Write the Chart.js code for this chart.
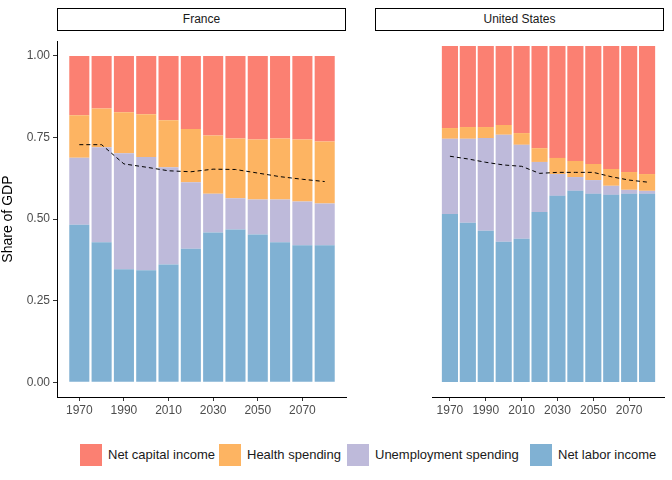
<!DOCTYPE html>
<html><head><meta charset="utf-8">
<script src="https://cdn.jsdelivr.net/npm/chart.js@4"></script>
<style>
body{margin:0;width:672px;height:480px;background:#fff;font-family:"Liberation Sans",Arial,sans-serif;position:relative;overflow:hidden}
.strip{position:absolute;top:8px;height:21px;border:1.5px solid #000;box-sizing:content-box;text-align:center;font-size:12px;line-height:21px;color:#1a1a1a}
canvas{position:absolute}
.leg{position:absolute;top:444px;font-size:13px;color:#1a1a1a;line-height:22px}
.leg span{display:inline-block;width:22px;height:22px;vertical-align:top;margin-right:6px}
</style></head><body>
<div class="strip" style="left:57px;width:287px">France</div>
<div class="strip" style="left:375px;width:287px">United States</div>
<div style="position:absolute;left:0;top:31px;width:347px;height:394px"><canvas id="fr"></canvas></div>
<div style="position:absolute;left:375px;top:31px;width:290px;height:394px"><canvas id="us"></canvas></div>
<div class="leg" style="left:80px"><span style="background:#fb8072"></span>Net capital income</div>
<div class="leg" style="left:219px"><span style="background:#fdb462"></span>Health spending</div>
<div class="leg" style="left:347px"><span style="background:#bebada"></span>Unemployment spending</div>
<div class="leg" style="left:530px"><span style="background:#80b1d3"></span>Net labor income</div>
<script>
const years=[1970,1980,1990,2000,2010,2020,2030,2040,2050,2060,2070,2080];
const tickYears=[1970,1990,2010,2030,2050,2070];
const yTicks=[0,0.25,0.5,0.75,1];
// cumulative tops of each layer
const frLabor=[0.483,0.429,0.346,0.343,0.361,0.409,0.459,0.468,0.453,0.429,0.420,0.420];
const frUnempTop=[0.688,0.720,0.702,0.690,0.659,0.613,0.578,0.564,0.560,0.560,0.554,0.548];
const frHealthTop=[0.818,0.839,0.827,0.821,0.803,0.776,0.756,0.747,0.744,0.747,0.744,0.738];
const frLine=[0.728,0.728,0.669,0.659,0.648,0.645,0.653,0.652,0.641,0.630,0.622,0.615];
const usLabor=[0.500,0.474,0.450,0.417,0.426,0.506,0.554,0.569,0.560,0.557,0.560,0.560];
const usUnempTop=[0.724,0.724,0.726,0.736,0.706,0.655,0.619,0.610,0.601,0.584,0.572,0.569];
const usHealthTop=[0.756,0.759,0.759,0.765,0.741,0.696,0.667,0.658,0.649,0.634,0.625,0.619];
const usLine=[0.672,0.664,0.654,0.646,0.642,0.621,0.624,0.624,0.624,0.611,0.601,0.595];

const labels=['',...years.map(String),''];
const pad=a=>[null,...a,null];

function mk(id,labor,uTop,hTop,line,showY){
  const diff=(a,b)=>a.map((v,i)=>+(v-b[i]).toFixed(3));
  const ones=years.map(()=>1);
  const bar=(label,data,color)=>({type:'bar',label,data:pad(data),backgroundColor:color,barPercentage:0.9,categoryPercentage:1,stack:'s',order:2,borderWidth:0});
  new Chart(document.getElementById(id),{
    data:{labels,datasets:[
      {type:'line',data:pad(line),borderColor:'#000',borderWidth:1,borderDash:[4,3],pointRadius:0,fill:false,order:0,tension:0,stack:'l'},
      bar('Net labor income',labor,'#80b1d3'),
      bar('Unemployment spending',diff(uTop,labor),'#bebada'),
      bar('Health spending',diff(hTop,uTop),'#fdb462'),
      bar('Net capital income',diff(ones,hTop),'#fb8072')
    ]},
    options:{responsive:true,maintainAspectRatio:false,animation:false,
      layout:{padding:0},
      plugins:{legend:{display:false},tooltip:{enabled:false}},
      scales:{
        x:{type:'category',offset:false,stacked:true,
          afterBuildTicks:s=>{s.ticks=tickYears.map(y=>({value:labels.indexOf(String(y))}))},
          afterFit:s=>{s.height=28},
          grid:{drawOnChartArea:false,tickLength:4,color:'#333',offset:false},
          border:{display:true,color:'#000',width:1},
          ticks:{color:'#4d4d4d',font:{size:12,family:'Liberation Sans'},padding:2,maxRotation:0,autoSkip:false,
            callback:function(v){return labels[v];}}},
        y:{display:showY,stacked:true,min:-0.045,max:1.045,
          afterBuildTicks:s=>{s.ticks=yTicks.map(v=>({value:v}))},
          afterFit:s=>{s.width=57},
          grid:{drawOnChartArea:false,tickLength:4,color:'#333'},
          border:{display:true,color:'#000',width:1},
          title:{display:true,text:'Share of GDP',color:'#000',font:{size:14,family:'Liberation Sans'},padding:0},
          ticks:{color:'#4d4d4d',font:{size:12,family:'Liberation Sans'},padding:3,callback:v=>v.toFixed(2)}}
      }}
  });
}
mk('fr',frLabor,frUnempTop,frHealthTop,frLine,true);
mk('us',usLabor,usUnempTop,usHealthTop,usLine,false);
</script></body></html>
